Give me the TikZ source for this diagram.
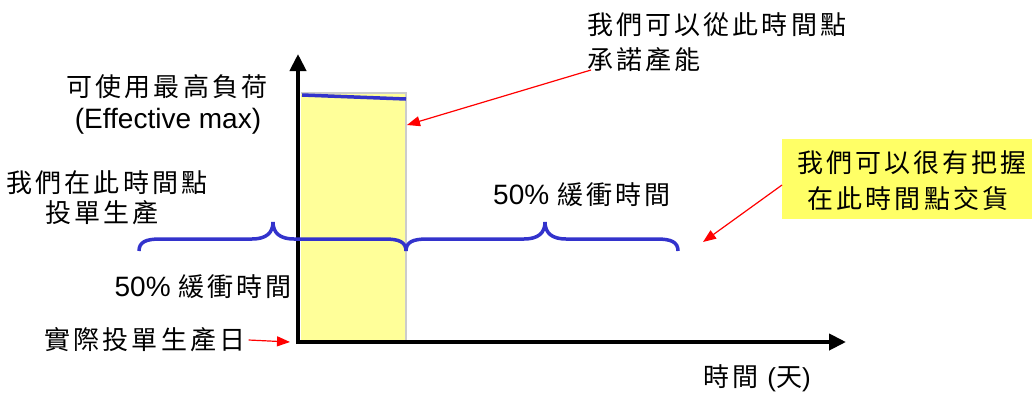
\documentclass[tikz,border=0pt]{standalone}
\usepackage{fontspec}
\setmainfont{Liberation Sans}
\newfontfamily\cjk[LetterSpace=12]{Noto Sans CJK TC}
\newfontfamily\latf{Liberation Sans}
\usetikzlibrary{arrows.meta}
\definecolor{braceblue}{HTML}{3333CC}
\definecolor{lightyel}{HTML}{FFFF99}
\definecolor{boxyel}{HTML}{FFFF66}
\tikzset{
  txt/.style={inner sep=0pt, font=\fontsize{26}{28}\selectfont\cjk},
  lat/.style={inner sep=0pt, font=\fontsize{28}{30}\selectfont},
  axis/.style={line width=4pt, -{Triangle[length=17pt,width=16pt]}},
  redarrow/.style={red, line width=1.2pt, -{Triangle[length=13pt,width=10pt]}},
  brace/.style={braceblue, line width=3.5pt}
}
\begin{document}
\begin{tikzpicture}[x=1pt,y=-1pt]
\useasboundingbox (0,0) rectangle (1035,394);
% yellow bar
\fill[lightyel] (301,93) rectangle (406,341);
\draw[gray!40, line width=1.2pt] (301,93) -- (406,93) -- (406,341);
\draw[braceblue, line width=3.5pt] (302,95) -- (406,99);
% axes
\coordinate (O) at (298,342);
\coordinate (ytop) at (298,54);
\coordinate (xend) at (846,342);
\draw[axis] (298,344) -- (ytop);
\draw[axis] (296,342) -- (xend);
% braces
\draw[brace] (139,251) .. controls (139,242) and (146,239) .. (160,239) -- (252,239) .. controls (266,239) and (273,233) .. (273,222) .. controls (273,233) and (280,239) .. (294,239) -- (385,239) .. controls (399,239) and (406,242) .. (406,251);
\draw[brace] (406,251) .. controls (406,242) and (413,239) .. (427,239) -- (524,239) .. controls (538,239) and (545,233) .. (545,222) .. controls (545,233) and (552,239) .. (566,239) -- (657,239) .. controls (671,239) and (678,242) .. (678,251);
% left texts
\node[txt] (effcn) at (167,87) {可使用最高負荷};
\node[lat] (effen) at (168,121) {(Effective max)};
\node[txt] (we1) at (107,183) {我們在此時間點};
\node[txt] (we2) at (102,213) {投單生產};
\node[lat, anchor=east] (buf1) at (292,287) {50\% {\fontsize{26}{28}\selectfont\cjk 緩衝時間}};
\node[txt] (start) at (145,340) {實際投單生產日};
\coordinate (startTip) at (290,342);
\draw[redarrow] (start.east) ++(3,0) -- (startTip);
% top texts
\node[txt, anchor=west] (cap1) at (587,25) {我們可以從此時間點};
\node[txt, anchor=west] (cap2) at (587,60) {承諾產能};
\coordinate (capTip) at (407,125);
\coordinate (capStart) at (591,70);
\draw[redarrow] (capStart) -- (capTip);
% right buffer
\node[lat, anchor=west] (buf2) at (493,195) {50\% {\fontsize{26}{28}\selectfont\cjk 緩衝時間}};
% yellow box
\node[fill=boxyel, minimum width=250pt, minimum height=80pt, inner sep=0pt, anchor=north west] (box) at (782,139) {};
\node[txt] (box1) at (912,163) {我們可以很有把握};
\node[txt] (box2) at (908,199) {在此時間點交貨};
\coordinate (boxTip) at (703,242);
\draw[redarrow] (782,185) -- (boxTip);
% x label
\node[txt] (xlab) at (757,378) {時間 {\latf(}天{\latf)}};
\end{tikzpicture}
\end{document}
